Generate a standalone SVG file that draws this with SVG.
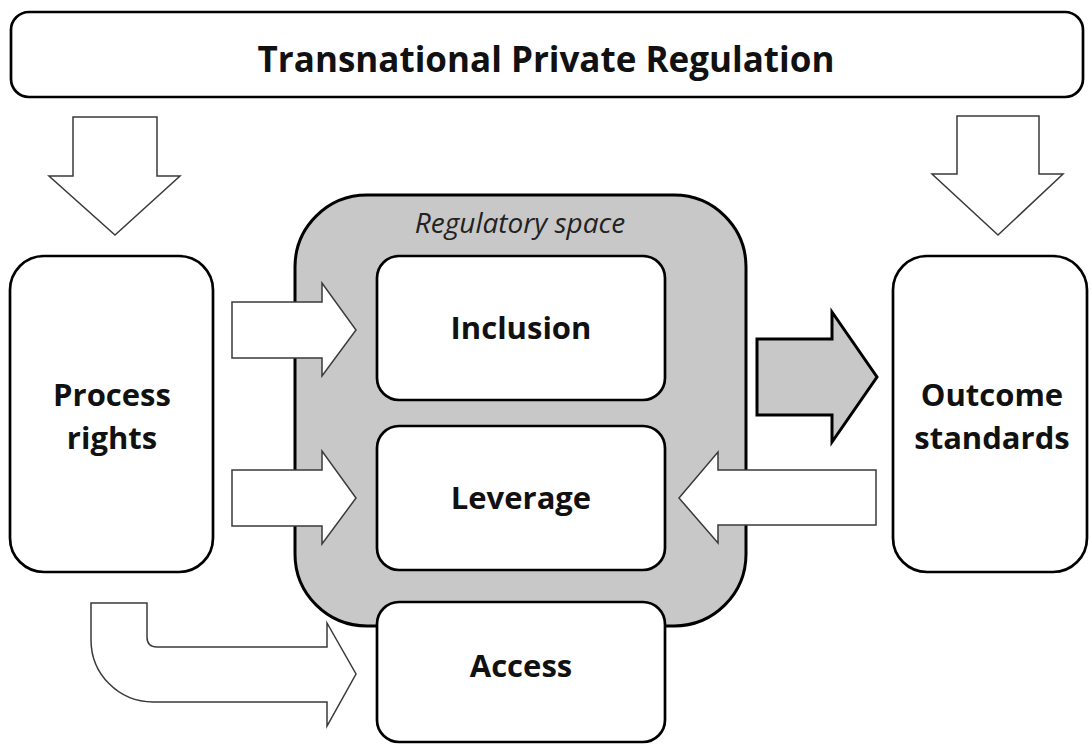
<svg xmlns="http://www.w3.org/2000/svg" width="1092" height="745" viewBox="0 0 1092 745">
<style>
.box{fill:#fff;stroke:#000;stroke-width:2.7}
.arw{fill:#fff;stroke:#3a3a3a;stroke-width:1.5;stroke-linejoin:miter}
.garw{fill:#c8c8c8;stroke:#000;stroke-width:3;stroke-linejoin:miter}
.lbl{font-family:"Open Sans","DejaVu Sans",sans-serif;font-weight:bold;font-size:31px;fill:#111;text-anchor:middle}
</style>
<rect width="1092" height="745" fill="#fff"/>
<g id="region-regulatory-space">
<rect x="295" y="195" width="451" height="431" rx="72" ry="72" fill="#c8c8c8" stroke="#000" stroke-width="3"/>
<text x="520" y="233" text-anchor="middle" font-family="'Open Sans','DejaVu Sans',sans-serif" font-style="italic" font-size="28" fill="#222">Regulatory space</text>
</g>
<g id="node-tpr">
<rect class="box" x="11" y="12" width="1072" height="85" rx="18" ry="18"/>
<text class="lbl" x="546" y="72" style="font-size:35px">Transnational Private Regulation</text>
</g>
<g id="node-process-rights">
<rect class="box" x="10" y="256" width="203" height="316" rx="34" ry="34"/>
<text class="lbl" x="112" y="406">Process</text>
<text class="lbl" x="112" y="449">rights</text>
</g>
<g id="node-outcome-standards">
<rect class="box" x="893" y="256" width="194" height="316" rx="34" ry="34"/>
<text class="lbl" x="992" y="406">Outcome</text>
<text class="lbl" x="992" y="449">standards</text>
</g>
<g id="node-inclusion">
<rect class="box" x="377" y="256" width="288" height="144" rx="22" ry="22"/>
<text class="lbl" x="521" y="339">Inclusion</text>
</g>
<g id="node-leverage">
<rect class="box" x="377" y="426" width="288" height="144" rx="22" ry="22"/>
<text class="lbl" x="521" y="509">Leverage</text>
</g>
<g id="node-access">
<rect class="box" x="377" y="602" width="288" height="140" rx="22" ry="22"/>
<text class="lbl" x="521" y="677">Access</text>
</g>
<g id="connectors">
<path class="arw" d="M73,117 L157,117 L157,176 L180,176 L115,235 L49,176 L73,176 Z"/>
<path class="arw" d="M957,116 L1039,116 L1039,174 L1063,174 L998,235 L932,174 L957,174 Z"/>
<path class="arw" d="M232,302 L322,302 L322,283 L356,330 L322,376 L322,358 L232,358 Z"/>
<path class="arw" d="M232,470 L322,470 L322,451 L356,498 L322,544 L322,526 L232,526 Z"/>
<path class="garw" d="M757,339 L832,339 L832,312 L877,377 L832,442 L832,415 L757,415 Z"/>
<path class="arw" d="M876,470 L718,470 L718,452 L679,498 L718,543 L718,525 L876,525 Z"/>
<path class="arw" d="M91,603 L147,603 L147,637 Q147,647 157,647 L327,647 L327,623 L356,674 L327,726 L327,702 L153,702 A62,62 0 0 1 91,640 Z"/>
</g>
</svg>
